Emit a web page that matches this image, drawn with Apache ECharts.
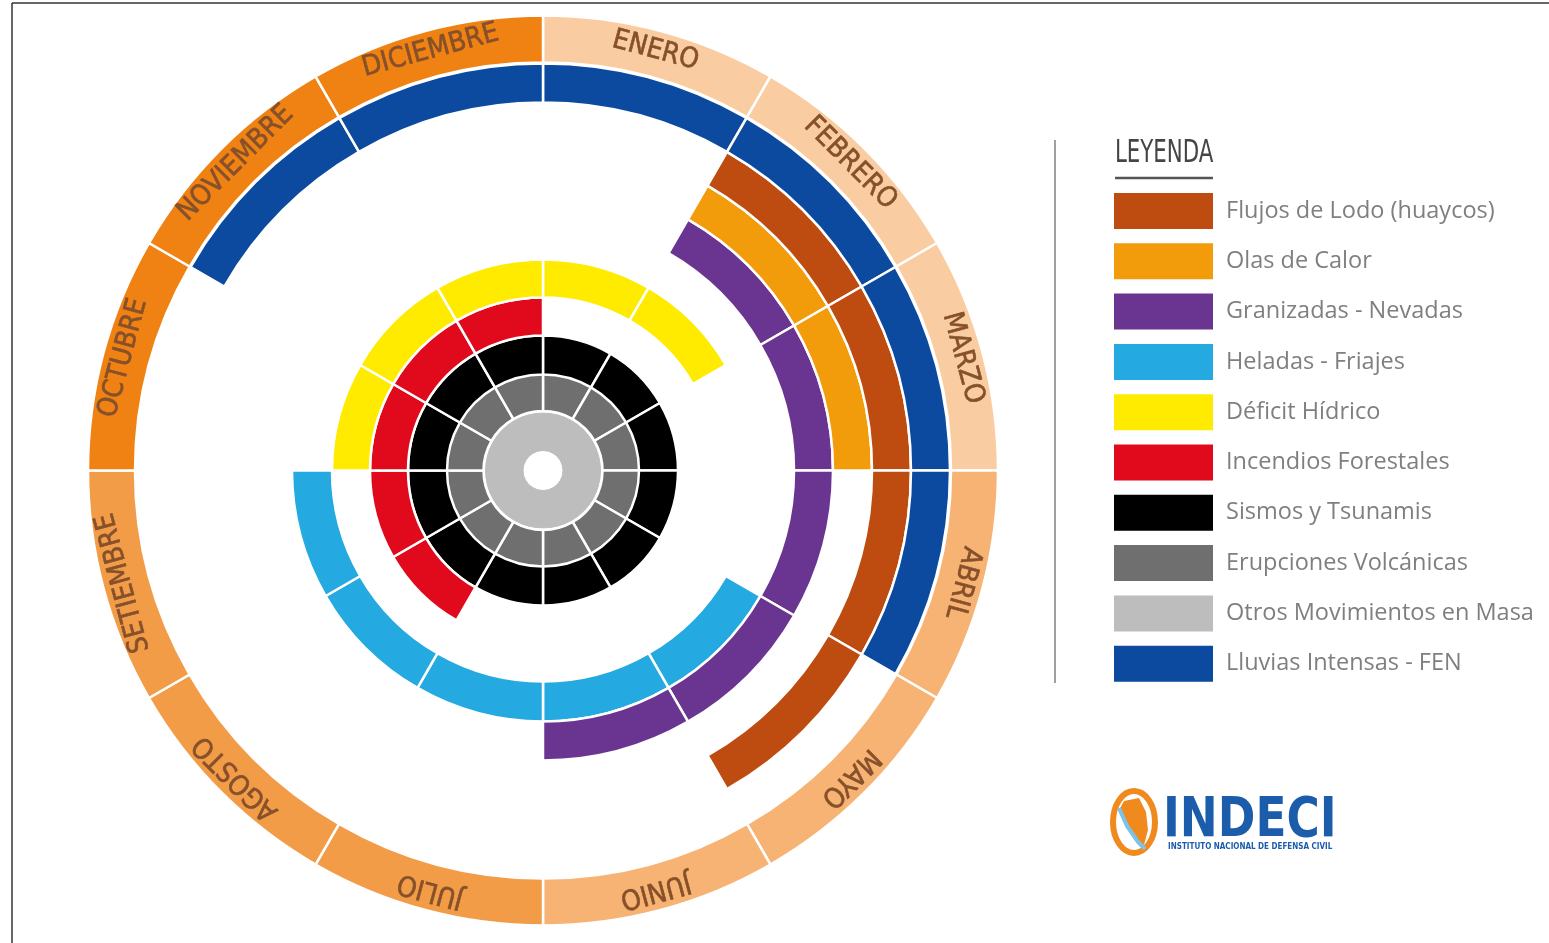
<!DOCTYPE html>
<html>
<head>
<meta charset="utf-8">
<script src="https://cdn.jsdelivr.net/npm/echarts@6/dist/echarts.min.js"></script>
<style>
  html, body { margin: 0; padding: 0; background: #ffffff; }
  #chart { width: 1549px; height: 943px; }
</style>
</head>
<body>
<div id="chart"></div>
<script>
// ---------- DATA ----------
const months = ['ENERO', 'FEBRERO', 'MARZO', 'ABRIL', 'MAYO', 'JUNIO',
                'JULIO', 'AGOSTO', 'SETIEMBRE', 'OCTUBRE', 'NOVIEMBRE', 'DICIEMBRE'];

// 1 = hazard present in that month (Jan..Dec)
const lluviasIntensas  = [1, 1, 1, 1, 0, 0, 0, 0, 0, 0, 1, 1];
const flujosDeLodo     = [0, 1, 1, 1, 1, 0, 0, 0, 0, 0, 0, 0];
const olasDeCalor      = [0, 1, 1, 0, 0, 0, 0, 0, 0, 0, 0, 0];
const granizadas       = [0, 1, 1, 1, 1, 1, 0, 0, 0, 0, 0, 0];
const heladas          = [0, 0, 0, 0, 1, 1, 1, 1, 1, 0, 0, 0];
const deficitHidrico   = [1, 1, 0, 0, 0, 0, 0, 0, 0, 1, 1, 1];
const incendios        = [0, 0, 0, 0, 0, 0, 0, 1, 1, 1, 1, 1];
const sismos           = [1, 1, 1, 1, 1, 1, 1, 1, 1, 1, 1, 1];
const erupciones       = [1, 1, 1, 1, 1, 1, 1, 1, 1, 1, 1, 1];
const otrosMovimientos = [1, 1, 1, 1, 1, 1, 1, 1, 1, 1, 1, 1];

const legendOrder = [
  'Flujos de Lodo (huaycos)', 'Olas de Calor', 'Granizadas - Nevadas', 'Heladas - Friajes',
  'Déficit Hídrico', 'Incendios Forestales', 'Sismos y Tsunamis', 'Erupciones Volcánicas',
  'Otros Movimientos en Masa', 'Lluvias Intensas - FEN'
];

// ---------- STYLE ----------
const CENTER = [543, 470.5];
const NARROW = '"Liberation Sans Narrow", "DejaVu Sans Condensed", sans-serif';
const rings = [
  { name: 'Otros Movimientos en Masa', flags: otrosMovimientos, color: '#BDBDBD', r: [20, 57.5], seamless: true },
  { name: 'Erupciones Volcánicas',     flags: erupciones,       color: '#6F6F6F', r: [59.5, 97] },
  { name: 'Sismos y Tsunamis',         flags: sismos,           color: '#000000', r: [96, 135] },
  { name: 'Incendios Forestales',      flags: incendios,        color: '#E10A1C', r: [135, 173] },
  { name: 'Déficit Hídrico',           flags: deficitHidrico,   color: '#FFEB00', r: [173, 211] },
  { name: 'Heladas - Friajes',         flags: heladas,          color: '#24AAE0', r: [211, 251] },
  { name: 'Granizadas - Nevadas',      flags: granizadas,       color: '#6A3591', r: [251, 290] },
  { name: 'Olas de Calor',             flags: olasDeCalor,      color: '#F39C0B', r: [290, 329] },
  { name: 'Flujos de Lodo (huaycos)',  flags: flujosDeLodo,     color: '#BE4C10', r: [329, 368] },
  { name: 'Lluvias Intensas - FEN',    flags: lluviasIntensas,  color: '#0B4A9E', r: [368, 407] }
];
const monthColors = ['#F9CDA1', '#F9CDA1', '#F9CDA1', '#F7B373', '#F7B373', '#F7B373',
                     '#F29C48', '#F29C48', '#F29C48', '#EF8213', '#EF8213', '#EF8213'];

function ringSeries(ring) {
  return {
    type: 'pie',
    name: ring.name,
    center: CENTER,
    radius: ring.r,
    startAngle: 90,
    clockwise: true,
    avoidLabelOverlap: false,
    animation: false,
    silent: true,
    emphasis: { disabled: true },
    label: { show: false },
    labelLine: { show: false },
    itemStyle: ring.seamless
      ? { color: ring.color, borderColor: ring.color, borderWidth: 1 }
      : { color: ring.color, borderColor: '#ffffff', borderWidth: 2.5 },
    data: months.map((m, i) => ({
      name: m,
      value: 1,
      itemStyle: ring.flags[i] ? {} : { color: 'rgba(0,0,0,0)', borderWidth: 0 }
    }))
  };
}

const series = rings.map(ringSeries);
series.push({
  type: 'pie',
  name: 'Meses',
  center: CENTER,
  radius: [408, 455],
  startAngle: 90,
  clockwise: true,
  avoidLabelOverlap: false,
  animation: false,
  silent: true,
  emphasis: { disabled: true },
  labelLine: { show: false },
  itemStyle: { borderColor: '#ffffff', borderWidth: 2.5 },
  label: {
    show: true,
    position: 'inside',
    color: '#86502A',
    textBorderColor: '#86502A',
    textBorderWidth: 0.6,
    fontFamily: NARROW,
    fontSize: 28
  },
  data: months.map((m, i) => ({
    name: m,
    value: 1,
    itemStyle: { color: monthColors[i] },
    label: { rotate: -(15 + 30 * i) }
  }))
});

const chart = echarts.init(document.getElementById('chart'));
chart.setOption({
  backgroundColor: '#ffffff',
  animation: false,
  legend: {
    data: legendOrder,
    orient: 'vertical',
    left: 1114,
    top: 193,
    padding: 0,
    itemWidth: 99,
    itemHeight: 36,
    itemGap: 14.3,
    icon: 'rect',
    selectedMode: false,
    itemStyle: { borderWidth: 0 },
    textStyle: {
      color: '#7F7F7F',
      fontFamily: '"Open Sans", Lato, sans-serif',
      fontSize: 23.5,
      padding: [3, 0, 0, 8]
    }
  },
  series: series,
  graphic: [
    // frame lines
    { type: 'line', shape: { x1: 12, y1: 3, x2: 1549, y2: 3 }, style: { stroke: '#333', lineWidth: 1.5 } },
    { type: 'line', shape: { x1: 12, y1: 3, x2: 12, y2: 943 }, style: { stroke: '#333', lineWidth: 1.5 } },
    // legend separator
    { type: 'line', shape: { x1: 1055, y1: 140, x2: 1055, y2: 683 }, style: { stroke: '#A0A0A0', lineWidth: 2 } },
    // legend title
    { type: 'text', x: 1115, y: 154, scaleX: 0.74,
      style: { text: 'LEYENDA', fill: '#454545', font: '32px ' + NARROW, textVerticalAlign: 'middle' } },
    { type: 'line', shape: { x1: 1115, y1: 178, x2: 1213, y2: 178 }, style: { stroke: '#555', lineWidth: 2.5 } },
    // INDECI logo
    { type: 'ellipse', shape: { cx: 1134, cy: 822, rx: 21, ry: 31 },
      style: { fill: '#ffffff', stroke: '#F08A1E', lineWidth: 6 } },
    { type: 'polygon', shape: { points: [[1124, 801], [1139, 798], [1146, 812], [1148, 830], [1144, 845], [1135, 840], [1126, 825], [1119, 810]] },
      style: { fill: '#F08A1E' } },
    { type: 'polyline', shape: { points: [[1119, 808], [1127, 826], [1138, 842], [1145, 849]] },
      style: { stroke: '#7CC3E8', lineWidth: 4, fill: null } },
    { type: 'text', x: 1163, y: 821, scaleX: 0.9,
      style: { text: 'INDECI', fill: '#1B5DAA', font: 'bold 56px ' + NARROW, textVerticalAlign: 'middle' } },
    { type: 'text', x: 1168, y: 847,
      style: { text: 'INSTITUTO NACIONAL DE DEFENSA CIVIL', fill: '#1B5DAA', font: 'bold 8px ' + NARROW, textVerticalAlign: 'middle' } }
  ]
});
</script>
</body>
</html>
